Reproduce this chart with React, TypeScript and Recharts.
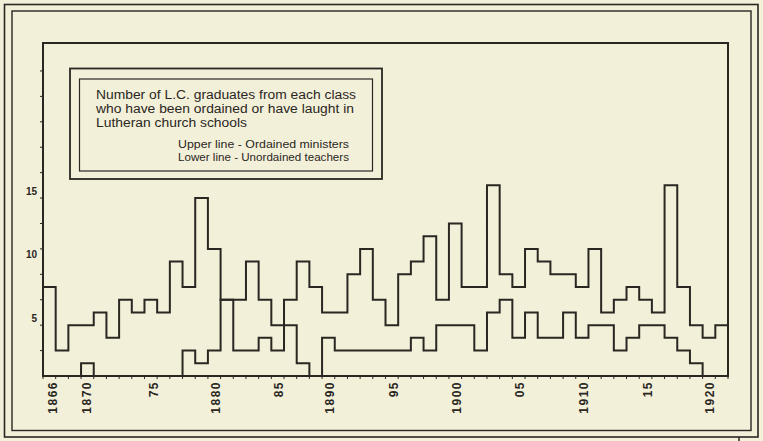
import React from 'react';
import { LineChart, Line, XAxis, YAxis, ReferenceArea } from 'recharts';

// Graduating classes (year of each class)
const classYears = [
  1866, 1867, 1868, 1869, 1870, 1871, 1872, 1873, 1874, 1875,
  1876, 1877, 1878, 1879, 1880, 1881, 1882, 1883, 1884, 1885,
  1886, 1887, 1888, 1889, 1890, 1891, 1892, 1893, 1894, 1895,
  1896, 1897, 1898, 1899, 1900, 1901, 1902, 1903, 1904, 1905,
  1906, 1907, 1908, 1909, 1910, 1911, 1912, 1913, 1914, 1915,
  1916, 1917, 1918, 1919,
];

// Upper line - Ordained ministers
const ordainedMinisters = [
  7, 2, 4, 4, 5, 3, 6, 5, 6, 5,
  9, 7, 14, 10, 6, 6, 9, 6, 4, 6,
  9, 7, 5, 5, 8, 10, 6, 4, 8, 9,
  11, 6, 12, 7, 7, 15, 8, 7, 10, 9,
  8, 8, 7, 10, 5, 6, 7, 6, 5, 15,
  7, 4, 3, 4,
];

// Lower line - Unordained teachers
const unordainedTeachers = [
  0, 0, 0, 1, 0, 0, 0, 0, 0, 0,
  0, 2, 1, 2, 6, 2, 2, 3, 2, 4,
  1, 0, 3, 2, 2, 2, 2, 2, 2, 3,
  2, 4, 4, 4, 2, 5, 6, 3, 5, 3,
  3, 5, 3, 4, 4, 2, 3, 4, 4, 3,
  2, 1, 0, 0,
];

// Hand-lettered year labels and where they sit on the year scale
const yearLabelTexts = ['1866', '1870', '75', '1880', '85', '1890', '95', '1900', '05', '1910', '15', '1920'];
const yearLabelAt = [1866.77, 1869.49, 1874.77, 1879.62, 1884.62, 1888.65, 1893.68, 1898.65, 1903.61, 1908.65, 1913.7, 1918.58];
const yearTickMarks = [
  1866, 1867, 1868, 1869, 1870, 1871, 1872, 1873, 1874, 1875,
  1876, 1877, 1878, 1879, 1880, 1881, 1882, 1883, 1884, 1885,
  1886, 1887, 1888, 1889, 1890, 1891, 1892, 1893, 1894, 1895,
  1896, 1897, 1898, 1899, 1900, 1901, 1902, 1903, 1904, 1905,
  1906, 1907, 1908, 1909, 1910, 1911, 1912, 1913, 1914, 1915,
  1916, 1917, 1918, 1919, 1920,
];

const countLabels = [5, 10, 15];
const countTickMarks = [2, 4, 6, 8, 10, 12, 14, 16, 18, 20, 22, 24];
const countMax = 26.2;

const titleLines = [
  'Number of L.C. graduates from each class',
  'who have been ordained or have laught in',
  'Lutheran church schools',
];
const keyLines = ['Upper line - Ordained ministers', 'Lower line - Unordained teachers'];

const INK = '#2a2622';
const PAPER = '#f3f0da';

const lastIdx = classYears.length - 1;
const tableData = [
  ...classYears.map((y, i) => ({ year: y, upper: ordainedMinisters[i], lower: unordainedTeachers[i] })),
  { year: classYears[lastIdx] + 1, upper: ordainedMinisters[lastIdx], lower: unordainedTeachers[lastIdx] },
];

const XTick = (props: any) => {
  const { x, y, payload } = props;
  const idx = yearLabelAt.indexOf(payload.value);
  if (idx >= 0) {
    const ay = y + 5;
    return (
      <text
        x={x}
        y={ay}
        transform={`rotate(-90, ${x}, ${ay})`}
        textAnchor="end"
        dominantBaseline="central"
        fontFamily="Liberation Sans, Arial, sans-serif"
        fontWeight="bold"
        fontSize={12}
        letterSpacing={1.5}
        fill={INK}
      >
        {yearLabelTexts[idx]}
      </text>
    );
  }
  return <line x1={x} x2={x} y1={y} y2={y + 3} stroke={INK} strokeWidth={1} />;
};

const YTick = (props: any) => {
  const { x, y, payload } = props;
  const v = payload.value;
  const showLabel = countLabels.indexOf(v) >= 0;
  const showMark = countTickMarks.indexOf(v) >= 0;
  return (
    <g>
      {showMark && <line x1={x - 3} x2={x} y1={y} y2={y} stroke={INK} strokeWidth={1} />}
      {showLabel && (
        <text
          x={x - 6}
          y={y + 6}
          textAnchor="end"
          dominantBaseline="central"
          fontFamily="Liberation Sans, Arial, sans-serif"
          fontWeight="bold"
          fontSize={10}
          fill={INK}
        >
          {v}
        </text>
      )}
    </g>
  );
};

const yTicksAll = Array.from(new Set([...countTickMarks, ...countLabels])).sort((a, b) => a - b);

export default function App() {
  return (
    <div style={{ position: 'absolute', left: 0, top: 0, width: 763, height: 441, background: PAPER }}>
      <LineChart
        width={763}
        height={441}
        data={tableData}
        margin={{ top: 43, right: 35, bottom: 15, left: 13 }}
      >
        <XAxis
          dataKey="year"
          type="number"
          domain={[1866, 1920]}
          ticks={[...yearTickMarks, ...yearLabelAt]}
          interval={0}
          tick={<XTick />}
          tickLine={false}
          tickSize={0}
          tickMargin={0}
          height={50}
          axisLine={{ stroke: INK, strokeWidth: 2 }}
          allowDataOverflow
        />
        <YAxis
          type="number"
          domain={[0, countMax]}
          ticks={yTicksAll}
          interval={0}
          tick={<YTick />}
          tickLine={false}
          tickSize={0}
          tickMargin={0}
          width={30}
          axisLine={{ stroke: INK, strokeWidth: 2 }}
          allowDataOverflow
        />
        <ReferenceArea
          x1={1866}
          x2={1920}
          y1={0}
          y2={countMax}
          fill="none"
          fillOpacity={0}
          stroke={INK}
          strokeWidth={2}
        />
        <Line
          dataKey="lower"
          type="stepAfter"
          stroke={INK}
          strokeWidth={2}
          dot={false}
          isAnimationActive={false}
        />
        <Line
          dataKey="upper"
          type="stepAfter"
          stroke={INK}
          strokeWidth={2}
          dot={false}
          isAnimationActive={false}
        />
      </LineChart>
      <svg
        width={763}
        height={441}
        style={{ position: 'absolute', left: 0, top: 0, pointerEvents: 'none' }}
      >
        {/* double frame */}
        <rect x={4.5} y={4.5} width={753.5} height={432.5} fill="none" stroke={INK} strokeWidth={1.6} />
        <rect x={12} y={11} width={739} height={419.5} fill="none" stroke={INK} strokeWidth={1.4} />
        <line x1={739} x2={739} y1={437} y2={441} stroke={INK} strokeWidth={1.5} />
        {/* legend box */}
        <rect x={70} y={68.5} width={312} height={110.5} fill="none" stroke={INK} strokeWidth={1.8} />
        <rect x={79.5} y={79} width={293} height={92} fill="none" stroke={INK} strokeWidth={1.2} />
        <g fontFamily="Liberation Sans, Arial, sans-serif" fill={INK}>
          <text x={96} y={95} fontSize={12} dominantBaseline="central" textLength={260} lengthAdjust="spacingAndGlyphs">
            {titleLines[0]}
          </text>
          <text x={96} y={109} fontSize={12} dominantBaseline="central" textLength={258} lengthAdjust="spacingAndGlyphs">
            {titleLines[1]}
          </text>
          <text x={96} y={123} fontSize={12} dominantBaseline="central" textLength={151} lengthAdjust="spacingAndGlyphs">
            {titleLines[2]}
          </text>
          <text x={178} y={144} fontSize={10.5} dominantBaseline="central" textLength={171} lengthAdjust="spacingAndGlyphs">
            {keyLines[0]}
          </text>
          <text x={178} y={157} fontSize={10.5} dominantBaseline="central" textLength={171} lengthAdjust="spacingAndGlyphs">
            {keyLines[1]}
          </text>
        </g>
      </svg>
    </div>
  );
}
